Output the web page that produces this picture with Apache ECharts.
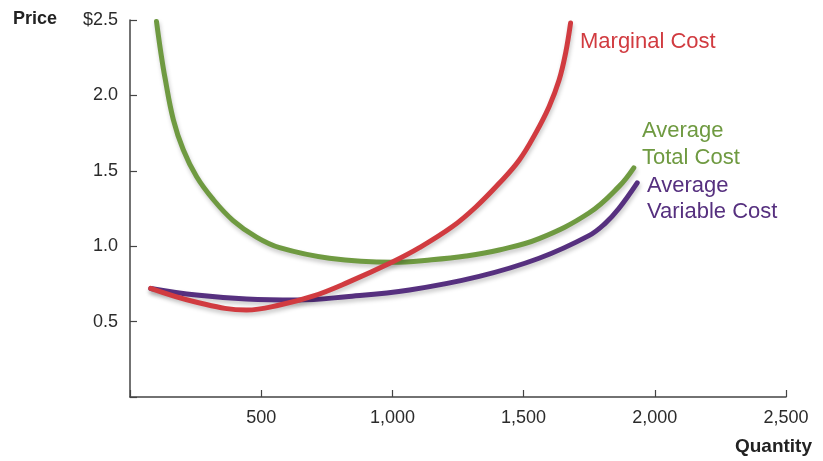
<!DOCTYPE html>
<html>
<head>
<meta charset="utf-8">
<script src="https://cdn.jsdelivr.net/npm/echarts@6/dist/echarts.min.js"></script>
<style>
  html, body { margin: 0; padding: 0; background: #fff; }
  #chart { width: 823px; height: 461px; }
</style>
</head>
<body>
<div id="chart"></div>
<script>
// Cost curves: quantity (x) vs price per unit (y)
const mcQty  = [79, 250, 444, 570, 700, 830, 1000, 1103, 1229, 1318, 1407, 1483, 1546, 1597, 1635, 1660, 1679];
const mcCost = [0.72, 0.63, 0.577, 0.61, 0.67, 0.76, 0.895, 0.99, 1.13, 1.26, 1.417, 1.57, 1.75, 1.925, 2.10, 2.28, 2.48];

const atcQty  = [101, 117, 133, 165, 203, 254, 317, 393, 482, 570, 760, 1000, 1150, 1280, 1407, 1559, 1749, 1863, 1920];
const atcCost = [2.49, 2.29, 2.12, 1.84, 1.64, 1.46, 1.31, 1.17, 1.06, 0.99, 0.92, 0.893, 0.91, 0.935, 0.975, 1.05, 1.22, 1.395, 1.52];

const avcQty  = [79, 253, 444, 634, 824, 1065, 1331, 1559, 1749, 1810, 1863, 1933];
const avcCost = [0.72, 0.676, 0.65, 0.643, 0.665, 0.71, 0.80, 0.92, 1.07, 1.15, 1.25, 1.42];

const xTicks = [500, 1000, 1500, 2000, 2500];
const yTicks = [0.5, 1.0, 1.5, 2.0, 2.5];

const pairs = (xs, ys) => xs.map((x, i) => [x, ys[i]]);

const RED = '#d13b40', GREEN = '#6f9a41', PURPLE = '#56307f';
const FONT = '"Liberation Sans", Arial, Helvetica, sans-serif';

function curve(name, data, color) {
  return {
    name, type: 'line', data, smooth: 0.4, symbol: 'none',
    lineStyle: {
      color, width: 5, cap: 'round', join: 'round',
      shadowColor: 'rgba(0,0,0,0.22)', shadowBlur: 4, shadowOffsetX: 1, shadowOffsetY: 3
    }
  };
}

const chart = echarts.init(document.getElementById('chart'));
chart.setOption({
  animation: false,
  backgroundColor: '#fff',
  grid: { left: 130, right: 37, top: 20, bottom: 64 },
  xAxis: {
    type: 'value', min: 0, max: 2500, interval: 500,
    axisLine: { lineStyle: { color: '#444', width: 1.5 } },
    axisTick: { inside: true, length: 7, lineStyle: { color: '#444', width: 1.2 } },
    splitLine: { show: false },
    axisLabel: {
      margin: 12, color: '#2b2b2b', fontSize: 18, fontFamily: FONT,
      formatter: v => xTicks.includes(v) ? v.toLocaleString('en-US') : ''
    }
  },
  yAxis: {
    type: 'value', min: 0, max: 2.5, interval: 0.5,
    axisLine: { show: true, lineStyle: { color: '#444', width: 1.5 } },
    axisTick: { show: true, inside: true, length: 7, lineStyle: { color: '#444', width: 1.2 } },
    splitLine: { show: false },
    axisLabel: {
      margin: 12, color: '#2b2b2b', fontSize: 18, fontFamily: FONT,
      formatter: v => {
        const t = yTicks.find(y => Math.abs(y - v) < 1e-6);
        if (t === undefined) return '';
        return t === 2.5 ? '$2.5' : t.toFixed(1);
      }
    }
  },
  series: [
    curve('Average Total Cost', pairs(atcQty, atcCost), GREEN),
    curve('Average Variable Cost', pairs(avcQty, avcCost), PURPLE),
    curve('Marginal Cost', pairs(mcQty, mcCost), RED)
  ],
  graphic: [
    { type: 'text', left: 13, top: 10, style: { text: 'Price', fill: '#222', font: '600 18px ' + FONT } },
    { type: 'text', right: 11, top: 437, style: { text: 'Quantity', fill: '#222', font: '600 19px ' + FONT } },
    { type: 'text', left: 580, top: 31, style: { text: 'Marginal Cost', fill: RED, font: '22px ' + FONT } },
    { type: 'text', left: 642, top: 117, style: { text: 'Average\nTotal Cost', fill: GREEN, font: '22px ' + FONT, lineHeight: 27 } },
    { type: 'text', left: 647, top: 173, style: { text: 'Average\nVariable Cost', fill: PURPLE, font: '22px ' + FONT, lineHeight: 26 } }
  ]
});
</script>
</body>
</html>
